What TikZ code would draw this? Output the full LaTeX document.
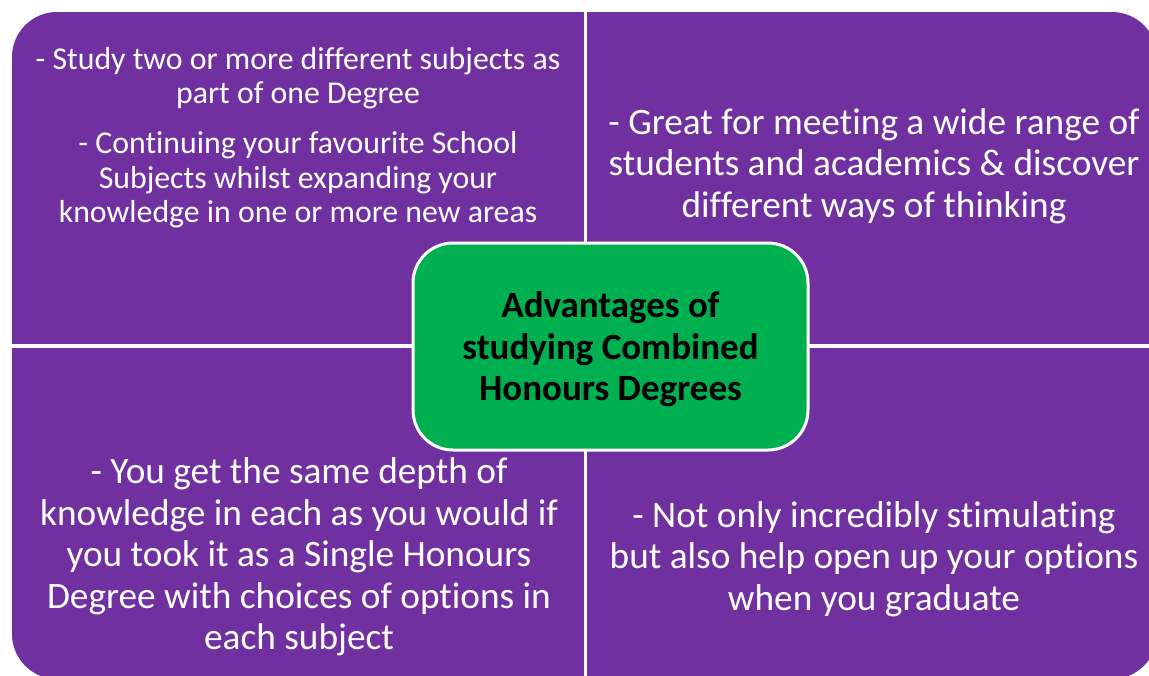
\documentclass[tikz,border=0pt]{standalone}
\usepackage{fontspec}
\setmainfont{Carlito}[Ligatures=NoCommon]
\definecolor{quadpurple}{HTML}{7030A0}
\definecolor{centergreen}{HTML}{00B050}
\begin{document}
\begin{tikzpicture}[x=1pt,y=-1pt,
  quadtext/.style={text=white,align=center,inner sep=0pt,font=\fontsize{37.3}{41.5}\selectfont},
  smalltext/.style={text=white,align=center,inner sep=0pt,font=\fontsize{31.8}{34.5}\selectfont},
  centerbox/.style={draw=white,line width=3pt,fill=centergreen,rounded corners=40pt,
    minimum width=395pt,minimum height=207pt,inner sep=0pt},
  centerlabel/.style={text=black,align=center,inner sep=0pt,font=\bfseries\fontsize{37}{41.5}\selectfont}]
\useasboundingbox (0,0) rectangle (1149,675);
\clip (0,0) rectangle (1149,675);
\fill[white] (0,0) rectangle (1149,675);
% quadrants
\fill[quadpurple,rounded corners=45pt] (12,12) rectangle (1157,679);
\draw[white,line width=3.5pt] (585.5,0) -- (585.5,680);
\draw[white,line width=3.5pt] (0,346) -- (1160,346);
% texts
\node[smalltext] (tl1) at (298,78) {- Study two or more different subjects as\\part of one Degree};
\node[smalltext] (tl2) at (298,180) {- Continuing your favourite School\\Subjects whilst expanding your\\knowledge in one or more new areas};
\node[quadtext] (tr) at (874,166) {- Great for meeting a wide range of\\students and academics \& discover\\different ways of thinking};
\node[quadtext] (bl) at (299,557) {- You get the same depth of\\knowledge in each as you would if\\you took it as a Single Honours\\Degree with choices of options in\\each subject};
\node[quadtext] (br) at (874,559) {- Not only incredibly stimulating\\but also help open up your options\\when you graduate};
\node[centerbox] (center) at (610.5,346.5) {};
\node[centerlabel] (centertext) at (610.5,349.5) {Advantages of\\studying Combined\\Honours Degrees};
\end{tikzpicture}
\end{document}
